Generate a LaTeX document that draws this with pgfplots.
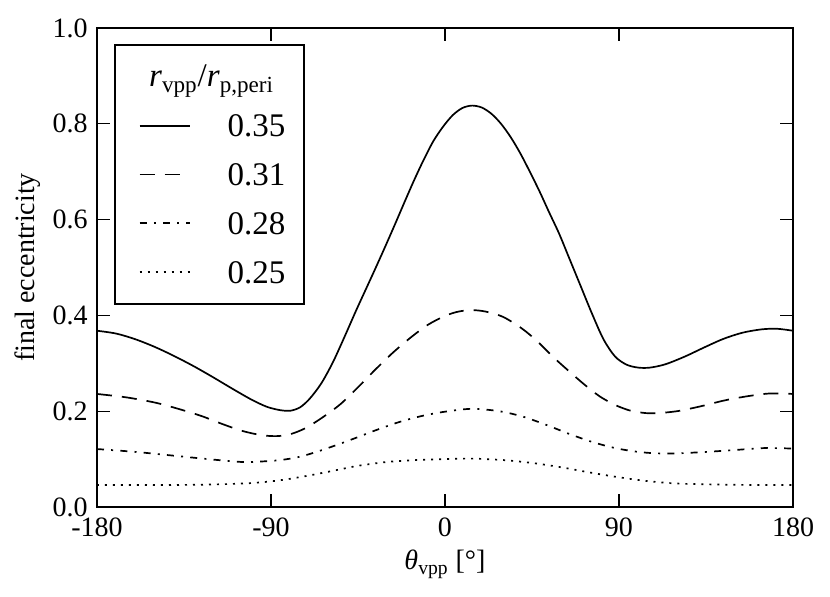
\documentclass[border=0pt]{standalone}
\usepackage{fontspec}
\setmainfont{Liberation Serif}
\usepackage{pgfplots}
\pgfplotsset{compat=1.18}
\begin{document}
\begin{tikzpicture}
\useasboundingbox (-48.5pt,-44.5pt) rectangle (366.5pt,253.5pt);
\begin{axis}[
  scale only axis, width=348pt, height=239.5pt,
  xmin=-180, xmax=180, ymin=0, ymax=1,
  xtick={-180,-90,0,90,180}, xticklabels={-180,-90,0,90,180},
  ytick={0,0.2,0.4,0.6,0.8,1.0}, yticklabels={0.0,0.2,0.4,0.6,0.8,1.0},
  minor tick num=0,
  tick align=inside, major tick length=6.3pt,
  every tick/.style={black, line width=0.65pt},
  axis line style={line width=1.1pt},
  tick label style={font=\fontsize{14}{16}\selectfont},
  xticklabel style={anchor=north, inner sep=0pt, yshift=-5pt},
  yticklabel style={anchor=east, inner sep=0pt, xshift=-4.5pt},
  xlabel={\textit{θ}\textsubscript{vpp} [°]},
  ylabel={final eccentricity},
  label style={font=\fontsize{14}{16}\selectfont},
  xlabel style={at={(axis description cs:0.5,-0.1315)}, anchor=base},
  ylabel style={at={(axis description cs:-0.0991,0.5)}, anchor=center},
  legend style={at={(axis description cs:0.0244,0.9666)}, anchor=north west,
    draw=black, line width=0.85pt, inner xsep=9.5pt, inner ysep=10.5pt,
    row sep=13.4pt, column sep=18.5pt,
    nodes={inner sep=0pt, anchor=west, text height=11pt, text depth=0pt,
      font=\fontsize{16.5}{18}\selectfont}},
  legend image code/.code={\path (0pt,0pt); \draw[#1] (2.5pt,0pt) -- (27.5pt,0pt);},
]
\addlegendimage{empty legend}
\addlegendentry{\hspace*{-8.5pt}\makebox[0pt]{\raisebox{0.5pt}{\textit{r}\textsubscript{vpp}/\textit{r}\textsubscript{p,peri}}}\hspace*{8.5pt}}

\addplot[black, line width=0.85pt, smooth] coordinates {
(-180,0.368) (-170,0.362) (-160,0.350) (-150,0.334) (-140,0.315) (-130,0.294)
(-120,0.271) (-110,0.247) (-100,0.224) (-92,0.209) (-85,0.202) (-80,0.201)
(-75,0.208) (-70,0.226) (-64,0.258) (-58,0.302) (-52,0.355) (-46,0.410)
(-41,0.454) (-36,0.498) (-31,0.543) (-26,0.589) (-21,0.636) (-16,0.682)
(-11,0.725) (-6,0.764) (-1,0.794) (4,0.818) (9,0.833) (14,0.838)
(19,0.834) (24,0.821) (29,0.800) (34,0.772) (39,0.738) (44,0.699)
(49,0.658) (54,0.614) (59,0.571) (64,0.522) (70,0.463) (76,0.404)
(82,0.350) (88,0.314) (94,0.297) (100,0.291) (106,0.291) (114,0.298)
(124,0.314) (134,0.333) (144,0.351) (154,0.364) (164,0.371) (172,0.372)
(180,0.368)};
\addlegendentry{0.35}

\addplot[black, line width=0.85pt, smooth, dash pattern=on 7.5pt off 5pt] coordinates {
(-180,0.236) (-165,0.229) (-150,0.218) (-138,0.205) (-126,0.190) (-115,0.173)
(-105,0.159) (-95,0.150) (-87,0.148) (-80,0.152) (-72,0.165) (-63,0.188)
(-54,0.215) (-45,0.250) (-36,0.287) (-27,0.322) (-18,0.353) (-9,0.380)
(0,0.399) (7,0.408) (14,0.411) (21,0.408) (30,0.397) (40,0.372)
(48,0.345) (56,0.313) (64,0.284) (72,0.256) (80,0.231) (88,0.213)
(96,0.201) (104,0.196) (110,0.196) (120,0.200) (132,0.210) (144,0.222)
(156,0.231) (168,0.237) (180,0.236)};
\addlegendentry{0.31}

\addplot[black, line width=0.85pt, smooth, dash pattern=on 3.5pt off 3.6pt on 1pt off 3.6pt] coordinates {
(-180,0.121) (-160,0.115) (-140,0.107) (-120,0.099) (-105,0.094) (-95,0.095)
(-85,0.098) (-75,0.105) (-65,0.117) (-55,0.131) (-45,0.146) (-36,0.160)
(-24,0.177) (-12,0.190) (0,0.199) (14,0.205) (28,0.200) (40,0.189)
(52,0.172) (64,0.153) (76,0.136) (88,0.123) (100,0.115) (110,0.112)
(120,0.112) (135,0.115) (150,0.119) (165,0.123) (180,0.122)};
\addlegendentry{0.28}

\addplot[black, line width=0.85pt, smooth, dash pattern=on 1pt off 3pt] coordinates {
(-180,0.046) (-160,0.046) (-140,0.046) (-120,0.047) (-100,0.050) (-85,0.056)
(-70,0.066) (-55,0.078) (-45,0.086) (-30,0.094) (-15,0.098) (0,0.100)
(14,0.101) (30,0.098) (45,0.092) (60,0.083) (75,0.072) (90,0.062)
(105,0.054) (120,0.049) (140,0.047) (160,0.046) (180,0.046)};
\addlegendentry{0.25}
\end{axis}
\end{tikzpicture}
\end{document}
